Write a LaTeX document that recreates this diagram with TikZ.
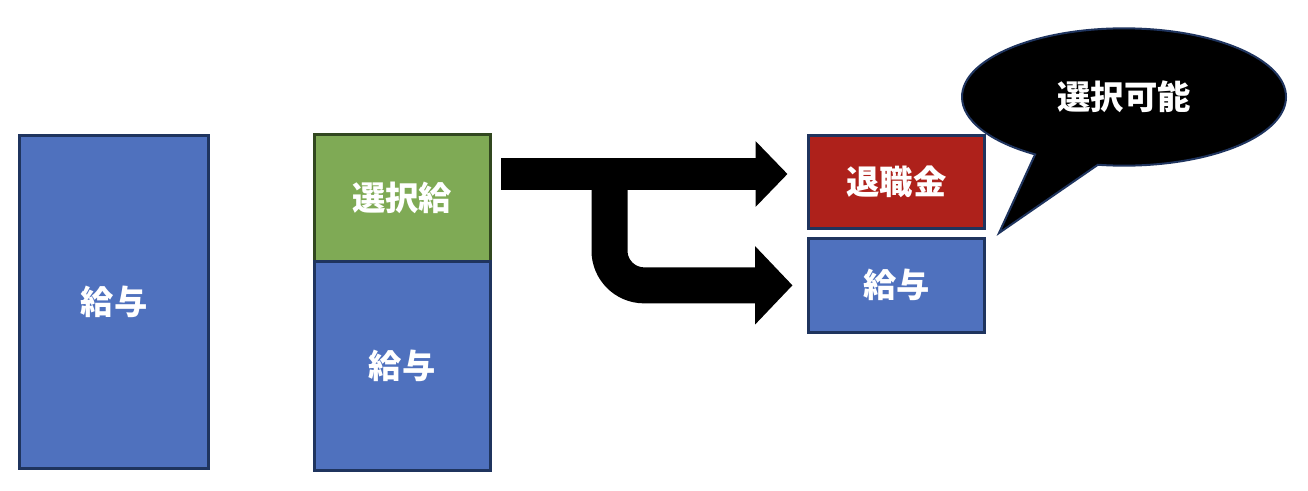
\documentclass[tikz,border=0pt]{standalone}
\usepackage{fontspec}
\newfontfamily\jp{Noto Sans CJK JP}
\usepackage{tikz}
\usetikzlibrary{arrows.meta, positioning, shapes.callouts}
\definecolor{payblue}{RGB}{79,113,190}
\definecolor{navy}{RGB}{31,52,94}
\definecolor{selgreen}{RGB}{127,170,85}
\definecolor{darkgreen}{RGB}{49,71,31}
\definecolor{retred}{RGB}{174,33,27}

\begin{document}
\begin{tikzpicture}[x=0.75pt, y=-0.75pt,
    lbl/.style={text=white, font=\jp\bfseries\fontsize{25}{30}\selectfont},
    box/.style={lbl, draw=navy, line width=2.25pt, fill=payblue, outer sep=0pt, inner sep=0pt,
                minimum width=132pt},
    bigarr/.style={line width=#1, black}]
  \useasboundingbox (0,0) rectangle (1308,490);
  \node[box, minimum width=141.75pt, minimum height=249.75pt] (pay1) at (114,302) {給与};
  \node[box, fill=selgreen, draw=darkgreen, minimum height=95.25pt] (sel) at (402,197.5) {選択給};
  \node[box, minimum height=156.75pt, below=0pt of sel] (pay3) {給与};
  \node[box, fill=retred, minimum height=70pt] (ret) at (896.5,182) {退職金};
  \node[box, minimum height=70pt, below=7.5pt of ret] (pay2) {給与};
  \coordinate (a0) at (501,174);
  \coordinate (fork) at (609.5,174);
  \draw[bigarr=24pt, -{Triangle[length=24pt, width=48pt]}, shorten >=15.75pt] (a0) -- (a0 -| ret.west);
  \draw[bigarr=27pt, rounded corners=26pt, -{Triangle[length=28pt, width=57pt]}, shorten >=12pt]
        (fork) |- (pay2.west);
  % speech bubble
  \node[lbl, ellipse callout, draw=navy, line width=1.5pt, fill=black, minimum width=243pt,
        minimum height=103pt, callout pointer arc=24, callout absolute pointer={(999,233)}]
        (bub) at (1124,97) {選択可能};
\end{tikzpicture}
\end{document}
